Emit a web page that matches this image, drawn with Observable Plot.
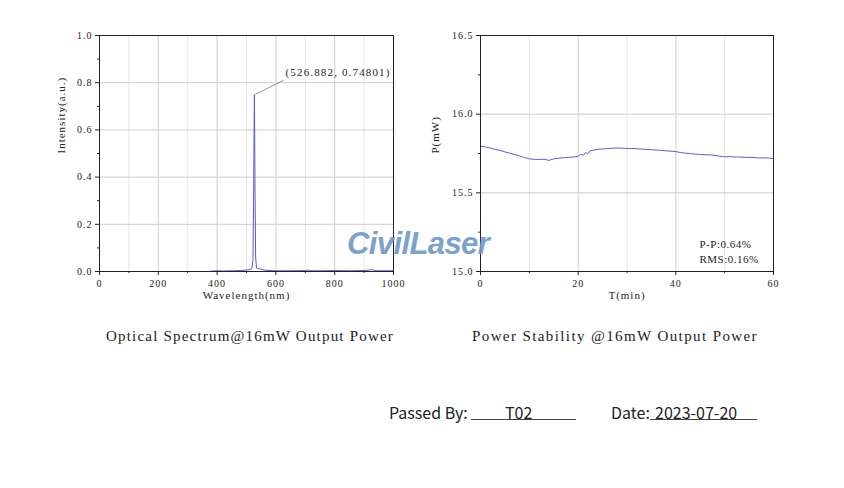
<!DOCTYPE html>
<html><head><meta charset="utf-8">
<script src="https://cdn.jsdelivr.net/npm/d3@7"></script>
<script src="https://cdn.jsdelivr.net/npm/@observablehq/plot@0.6"></script>
<style>
html,body{margin:0;padding:0;background:#fff;}
#page{position:relative;width:844px;height:488px;overflow:hidden;background:#fff;}
.abs{position:absolute;white-space:pre;}
.cap{font-family:"Liberation Serif","DejaVu Serif",serif;font-size:15px;color:#222;}
.foot{font-family:"Noto Sans CJK SC","Noto Sans",sans-serif;font-size:16px;color:#222;}
.ul{position:absolute;height:0;border-top:1px solid #444;}
#wm{font-family:"Liberation Sans",Arial,sans-serif;font-weight:bold;font-style:italic;font-size:31px;color:#6d98c6;opacity:0.9;letter-spacing:-0.6px;}
svg text{letter-spacing:1px;}
svg g.peak text{letter-spacing:1.15px;}
svg g.stats text{letter-spacing:0.5px;}
</style></head>
<body><div id="page"></div>
<script>
// ---- Spectrum data ----
const wavelengths = [380,400,420,440,460,480,500,510,518,522,524,526.882,529,531,534,540,550,560,580,600,650,700,710,720,760,800,850,900,930,940,1000];
const intensities = [0.002,0.003,0.002,0.003,0.003,0.004,0.006,0.008,0.012,0.05,0.30,0.74801,0.35,0.06,0.015,0.012,0.010,0.006,0.004,0.003,0.003,0.004,0.006,0.003,0.003,0.004,0.003,0.004,0.008,0.003,0.003];
const peakLabel = ["(526.882, 0.74801)"];
const peakPoint = [526.882, 0.74801];
const leaderEnd = [626, 0.81];
const specXTicks = [0,200,400,600,800,1000];
const specXMinor = [100,300,500,700,900];
const specYTicks = [0,0.2,0.4,0.6,0.8,1.0];
const specYMinor = [0.1,0.3,0.5,0.7,0.9];

// ---- Power stability data ----
const times = [0,1,2,3,4,5,6,7,8,9,10,11,12,13,14,15,16,17,18,19,20,20.5,21,21.5,22,22.5,23,24,25,26,27,28,29,30,31,32,33,34,35,36,37,38,39,40,41,42,43,44,45,46,47,48,49,50,51,52,53,54,55,56,57,58,59,60];
const power = [15.797,15.792,15.785,15.776,15.770,15.760,15.752,15.744,15.735,15.724,15.716,15.713,15.712,15.714,15.706,15.716,15.720,15.723,15.726,15.727,15.733,15.745,15.738,15.755,15.750,15.768,15.770,15.776,15.779,15.781,15.784,15.785,15.784,15.782,15.782,15.780,15.778,15.776,15.774,15.772,15.770,15.767,15.765,15.762,15.756,15.752,15.749,15.746,15.744,15.742,15.741,15.738,15.733,15.729,15.730,15.728,15.728,15.726,15.725,15.724,15.722,15.722,15.721,15.717];
const powXTicks = [0,20,40,60];
const powXMinor = [10,30,50];
const powYTicks = [15.0,15.5,16.0,16.5];
const powYMinor = [15.25,15.75,16.25];
const statsText = ["P-P:0.64%\nRMS:0.16%"];

const captions = ["Optical Spectrum@16mW Output Power","Power Stability @16mW Output Power"];
const passedBy = "T02";
const dateStr = "2023-07-20";

const spec = wavelengths.map((w,i)=>({w, v:intensities[i]}));
const pow = times.map((t,i)=>({t, p:power[i]}));

const fontStyle = {fontFamily:"Liberation Serif, DejaVu Serif, serif", fontSize:"10px", color:"#222", background:"transparent"};

const left = Plot.plot({
  width:420, height:310, marginLeft:99, marginRight:27, marginTop:35, marginBottom:39,
  style: fontStyle,
  x:{domain:[0,1000]}, y:{domain:[0,1]},
  marks:[
    Plot.gridX(specXMinor,{stroke:"#e6e6e6", strokeOpacity:1}),
    Plot.gridX(specXTicks,{stroke:"#cfcfcf", strokeOpacity:1}),
    Plot.gridY(specYTicks,{stroke:"#cfcfcf", strokeOpacity:1}),
    Plot.line(spec,{x:"w", y:"v", stroke:"#5656d2", strokeWidth:1}),
    Plot.link([0],{x1:()=>peakPoint[0], y1:()=>peakPoint[1], x2:()=>leaderEnd[0], y2:()=>leaderEnd[1], stroke:"#777", strokeWidth:0.8}),
    Plot.text(peakLabel,{x:()=>leaderEnd[0], y:()=>leaderEnd[1], text:d=>d, textAnchor:"start", dx:2, dy:-8, fontSize:11, fill:"#222", className:"peak"}),
    Plot.frame({stroke:"#222"}),
    Plot.axisX(specXTicks,{tickSize:4, tickPadding:4, label:null, tickFormat:d3.format("d")}),
    Plot.axisX(specXMinor,{tickSize:2, text:null, label:null}),
    Plot.axisY(specYTicks,{tickSize:4, tickPadding:3, label:null, tickFormat:d3.format(".1f")}),
    Plot.axisY(specYMinor,{tickSize:2, text:null, label:null}),
    Plot.text(["Wavelength(nm)"],{frameAnchor:"bottom", dy:27, fontSize:11, fill:"#222"}),
    Plot.text(["Intensity(a.u.)"],{frameAnchor:"left", dx:-38, rotate:-90, fontSize:11, fill:"#222"})
  ]
});

const right = Plot.plot({
  width:400, height:310, marginLeft:60, marginRight:47, marginTop:35, marginBottom:39,
  style: fontStyle,
  x:{domain:[0,60]}, y:{domain:[15,16.5]},
  marks:[
    Plot.gridX(powXMinor,{stroke:"#e6e6e6", strokeOpacity:1}),
    Plot.gridX(powXTicks,{stroke:"#cfcfcf", strokeOpacity:1}),
    Plot.gridY([15.5],{stroke:"#c8c8c8", strokeOpacity:1}),
    Plot.gridY([16.0],{stroke:"#dcdcdc", strokeOpacity:1, strokeWidth:1.5}),
    Plot.line(pow,{x:"t", y:"p", stroke:"#5a5ad4", strokeWidth:1}),
    Plot.text(statsText,{frameAnchor:"bottom-right", dy:-9, textAnchor:"start", lineAnchor:"bottom", lineHeight:1.3, fontSize:11, fill:"#222", text:d=>d, dx:-74, className:"stats"}),
    Plot.frame({stroke:"#222"}),
    Plot.axisX(powXTicks,{tickSize:4, tickPadding:4, label:null, tickFormat:d3.format("d")}),
    Plot.axisX(powXMinor,{tickSize:2, text:null, label:null}),
    Plot.axisY(powYTicks,{tickSize:4, tickPadding:3, label:null, tickFormat:d3.format(".1f")}),
    Plot.axisY(powYMinor,{tickSize:2, text:null, label:null}),
    Plot.text(["T(min)"],{frameAnchor:"bottom", dy:27, fontSize:11, fill:"#222"}),
    Plot.text(["P(mW)"],{frameAnchor:"left", dx:-45, rotate:-90, fontSize:11, fill:"#222"})
  ]
});

const page = document.getElementById("page");
function place(el, l, t){ el.style.position="absolute"; el.style.left=l+"px"; el.style.top=t+"px"; page.appendChild(el); return el; }
place(left,0,0);
place(right,420,0);

function txt(s, cls, l, t){ const d=document.createElement("div"); d.className="abs "+cls; d.textContent=s; return place(d,l,t); }
function ul(l, t, w){ const d=document.createElement("div"); d.className="ul"; d.style.width=w+"px"; return place(d,l,t); }
function fitWidth(el, target){ const w = el.getBoundingClientRect().width; const n = el.textContent.length; el.style.letterSpacing = ((target - w)/n)+"px"; }

const wm = txt("CivilLaser","", 347, 226); wm.id="wm";
const c1 = txt(captions[0],"cap",106,328); fitWidth(c1, 288);
const c2 = txt(captions[1],"cap",472,328); fitWidth(c2, 286);
txt("Passed By:","foot",389,400);
ul(471,419,105);
txt(passedBy,"foot",505,400);
txt("Date:","foot",611,400);
ul(650,419,107);
txt(dateStr,"foot",655,400);
</script></body></html>
